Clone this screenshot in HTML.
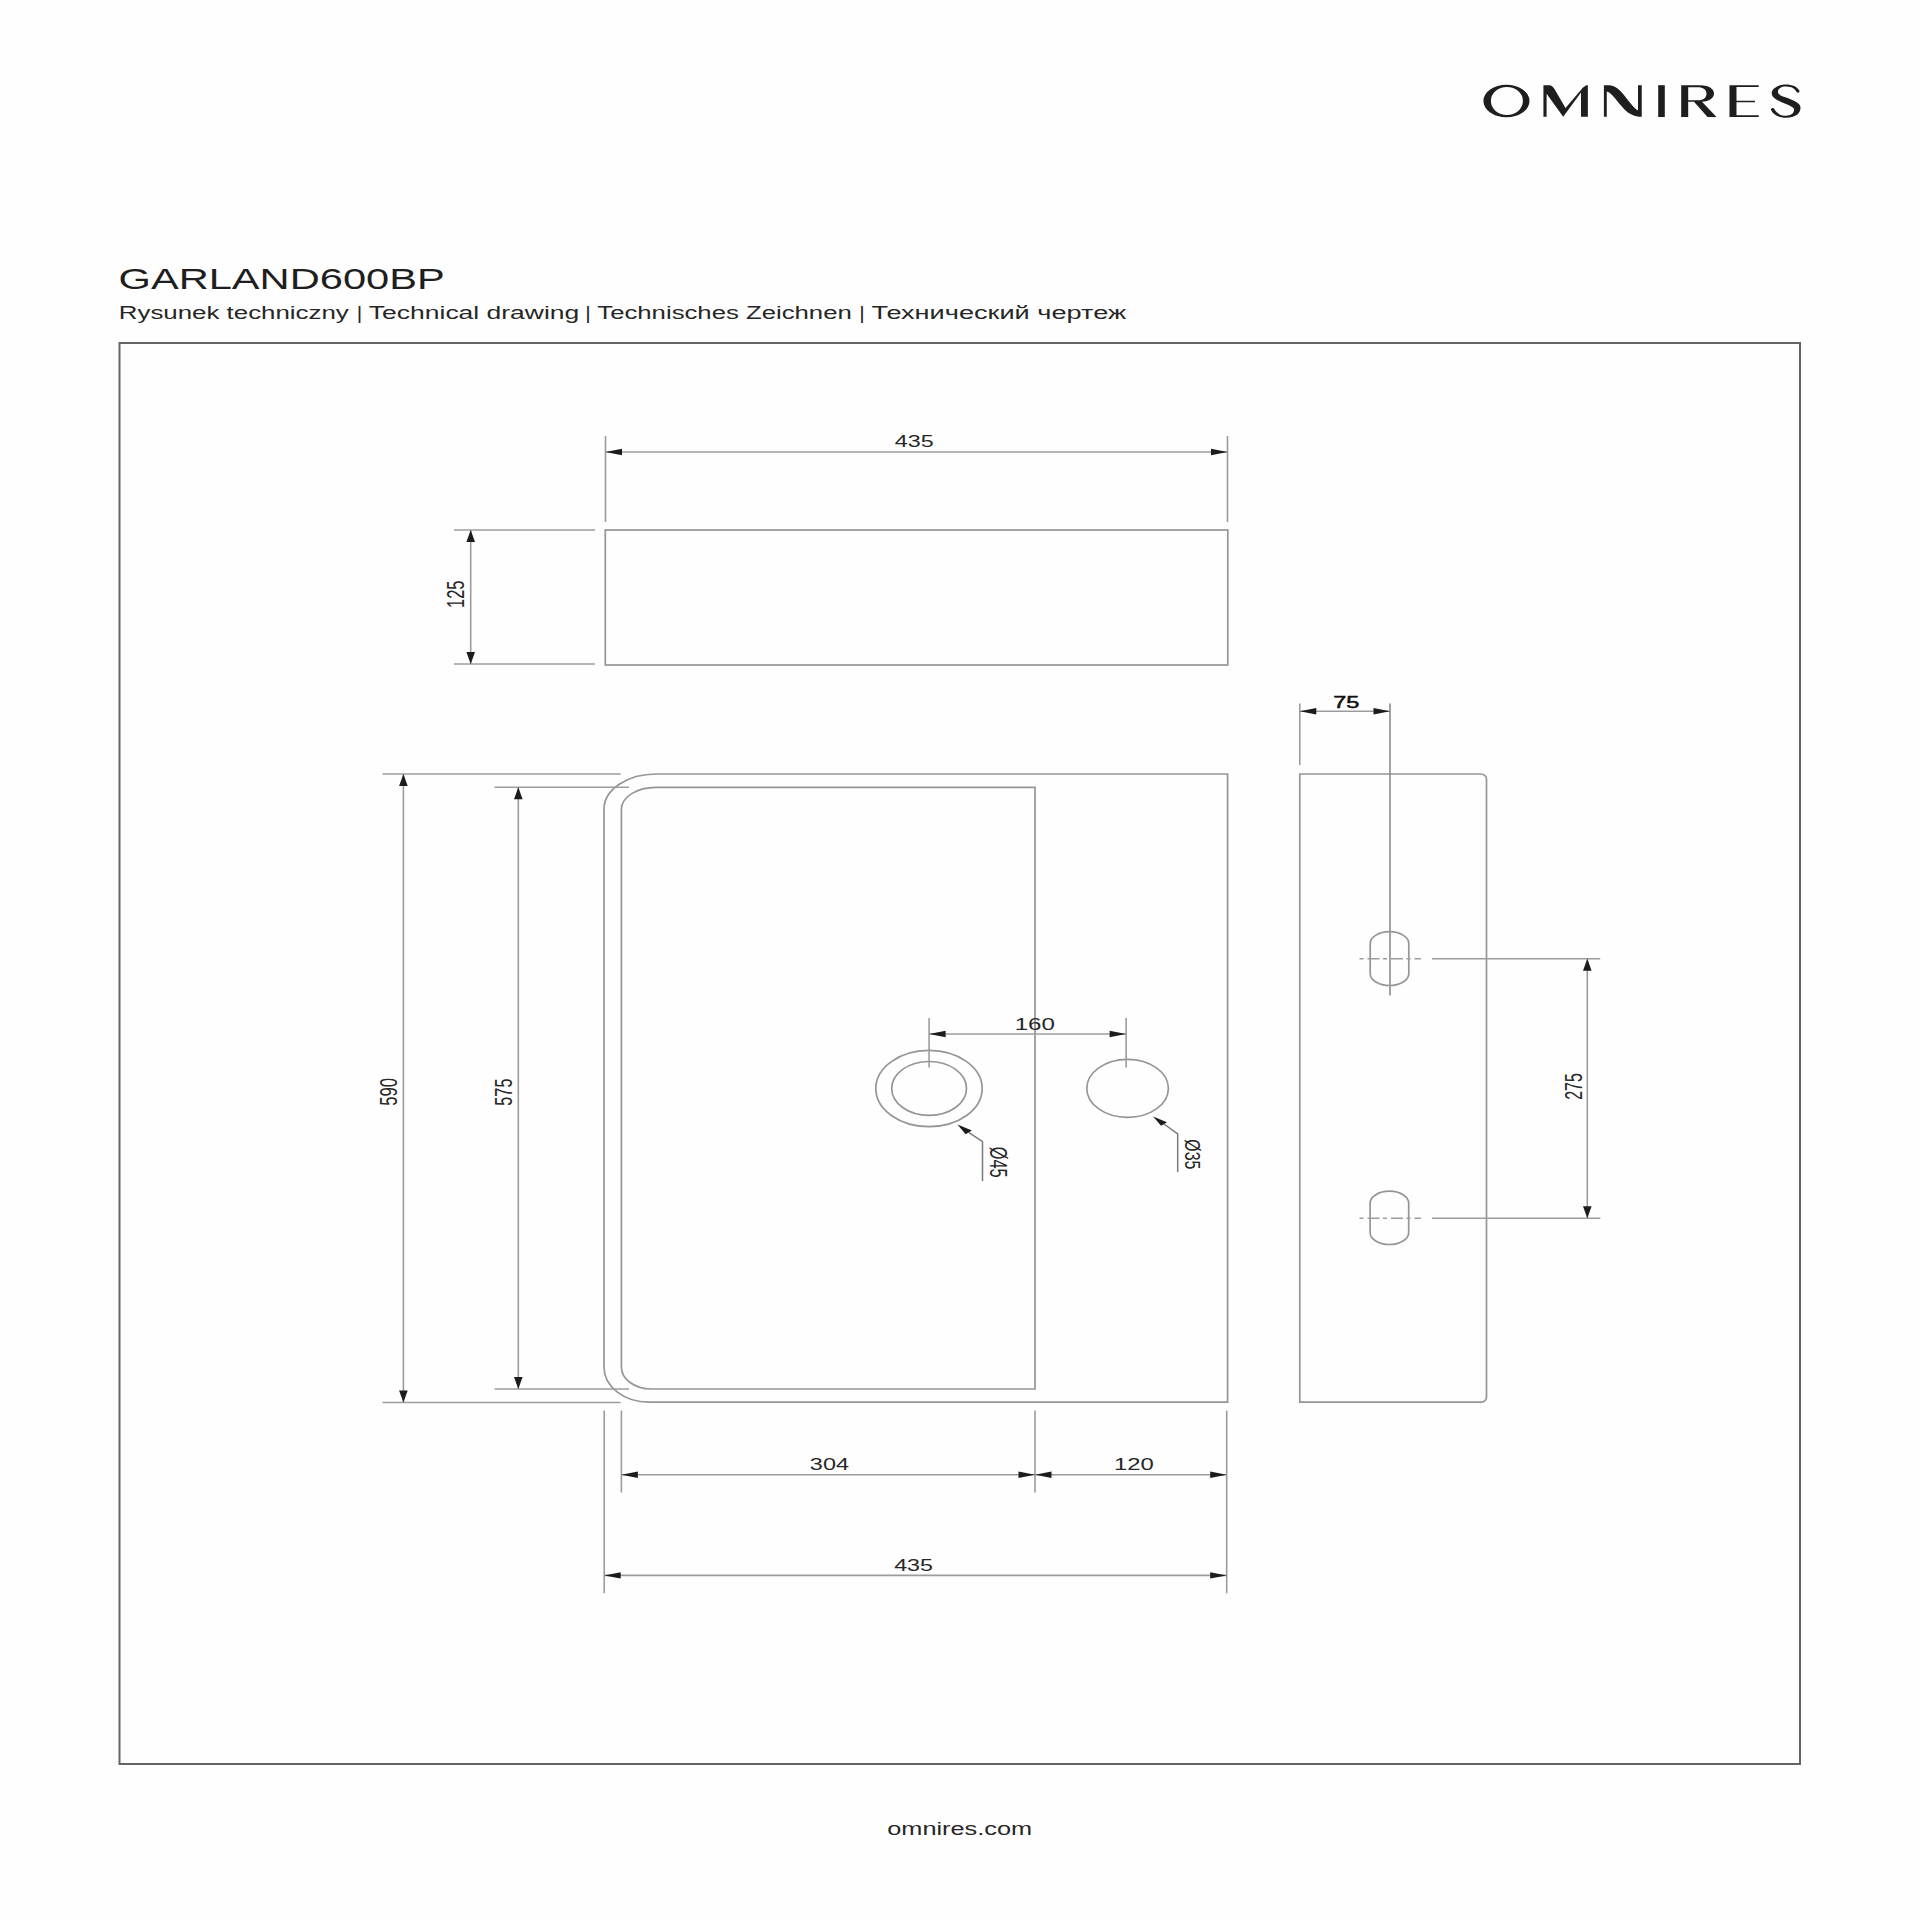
<!DOCTYPE html>
<html><head><meta charset="utf-8"><title>GARLAND600BP</title>
<style>
html,body{margin:0;padding:0;background:#fff;}
body{width:1920px;height:1920px;overflow:hidden;position:relative;}
svg{position:absolute;left:0;top:0;}
text{font-family:"Liberation Sans",sans-serif;}
</style></head>
<body>
<svg width="1920" height="1920" viewBox="0 0 1920 1920">
<rect x="0" y="0" width="1920" height="1920" fill="#fefefe"/>

<g fill="#1e1e1e">
 <path fill-rule="evenodd" d="M1483.4,101 a23.05,16.25 0 1 0 46.1,0 a23.05,16.25 0 1 0 -46.1,0 Z M1490.9,101 a16,14 0 1 0 32,0 a16,14 0 1 0 -32,0 Z"/>
 <path d="M1543.44,116.68 L1543.44,85.16 L1549.46,85.16 C1552.9,85.73 1554.62,89.17 1554.62,89.17 L1565.5,108.08 L1581.55,89.17 C1583.84,85.73 1587.28,85.16 1587.28,85.16 L1587.86,85.16 L1587.86,116.68 L1580.98,116.68 L1580.98,92.6 L1563.21,116.68 L1546.6,93.75 L1546.6,116.68 Z"/>
 <path d="M1603.9,116.68 L1603.9,85.16 L1609.06,85.16 C1614.79,85.44 1619.37,89.17 1623.96,94.9 C1629.69,102.35 1634.85,109.23 1638.0,110.37 L1638.0,85.16 L1641.73,85.16 L1641.73,116.68 L1638.86,116.68 C1632.56,116.1 1627.4,113.24 1621.67,106.36 C1614.2,97.19 1610.2,92.03 1606.77,91.46 L1606.77,116.68 Z"/>
 <rect x="1658.2" y="85.2" width="6.6" height="31.8"/>
 <path fill-rule="evenodd" d="M1681.2,117 L1681.2,85.2 L1700,85.2 C1710,85.2 1714,89.5 1714,93.5 C1714,98 1709,101.5 1702,101.7 L1716.5,117 L1707.5,117 L1694,101.8 L1688.2,101.8 L1688.2,117 Z M1688.2,87.2 L1688.2,100.2 L1698,100.2 C1703.5,100.2 1706.5,97.5 1706.5,93.7 C1706.5,89.5 1703,87.2 1698,87.2 Z"/>
 <polygon points="1729.5,117 1729.5,85.2 1758.7,85.2 1758.7,87 1736.5,87 1736.5,100.7 1755,100.7 1755,102.3 1736.5,102.3 1736.5,115.2 1758.7,115.2 1758.7,117"/>
 <path d="M1799.6,91.1 C1797.5,86.7 1792,84.6 1786,84.6 C1778.2,84.6 1771.7,88.5 1771.7,93 C1771.7,98.4 1778.2,100.8 1786,103.9 C1791.25,106 1794.1,107.6 1794.1,109.6 C1794.1,113.5 1790.7,115.75 1786,115.75 C1779.5,115.75 1775.6,112.2 1774.1,108.6 C1773,107.3 1771.2,108.1 1770.9,109.4 C1772.5,114.1 1778.2,117.8 1786,117.8 C1795.2,117.8 1800.5,113.5 1800.5,107.8 C1800.5,102.6 1793.9,100.5 1786,97.4 C1779.8,95.8 1778,93.75 1778,91.7 C1778,88.5 1781.4,86.5 1786,86.5 C1792.5,86.5 1795.4,89.6 1796.5,91.9 C1797.5,93.2 1799.3,92.7 1799.6,91.1 Z"/>
</g>


<rect x="119.5" y="343" width="1680.5" height="1421" fill="none" stroke="#646464" stroke-width="2"/>
<line x1="605.5" y1="436" x2="605.5" y2="522" stroke="#9c9c9c" stroke-width="1.6" />
<line x1="1227.5" y1="436" x2="1227.5" y2="522" stroke="#9c9c9c" stroke-width="1.6" />
<line x1="605.5" y1="452" x2="1227.5" y2="452" stroke="#9c9c9c" stroke-width="1.6" />
<polygon points="605.5,452 622.0,448.8 622.0,455.2" fill="#1c1c1c"/>
<polygon points="1227.5,452 1211.0,448.8 1211.0,455.2" fill="#1c1c1c"/>
<text transform="matrix(0.23292,0,0,0.16338,894.834,447.337)" x="0" y="0" font-size="100" font-weight="normal" fill="#262626" >435</text>
<rect x="605.3" y="530" width="622.5" height="135" fill="none" stroke="#959595" stroke-width="1.7"/>
<line x1="454" y1="530" x2="595" y2="530" stroke="#9c9c9c" stroke-width="1.6" />
<line x1="454" y1="664" x2="595" y2="664" stroke="#9c9c9c" stroke-width="1.6" />
<line x1="470.7" y1="530" x2="470.7" y2="664" stroke="#9c9c9c" stroke-width="1.6" />
<polygon points="470.7,530 466.4,542 475.0,542" fill="#1c1c1c"/>
<polygon points="470.7,664 466.4,652 475.0,652" fill="#1c1c1c"/>
<text transform="matrix(0,-0.16452,0.23239,0,464.068,608.016)" x="0" y="0" font-size="100" font-weight="normal" fill="#262626" >125</text>
<path d="M656,774 L1227.6,774 L1227.6,1402.2 L649,1402.2 A45,35 0 0 1 604,1367 L604,809 A52,35 0 0 1 656,774 Z" fill="none" stroke="#959595" stroke-width="1.7"/>
<path d="M656,787.3 L1035,787.3 L1035,1389 L651,1389 A29.6,22 0 0 1 621.4,1367 L621.4,809 A34.6,22 0 0 1 656,787.3 Z" fill="none" stroke="#959595" stroke-width="1.7"/>
<line x1="382.5" y1="774" x2="620.6" y2="774" stroke="#9c9c9c" stroke-width="1.6" />
<line x1="382.5" y1="1402.5" x2="620.6" y2="1402.5" stroke="#9c9c9c" stroke-width="1.6" />
<line x1="403.4" y1="774" x2="403.4" y2="1402.5" stroke="#9c9c9c" stroke-width="1.6" />
<polygon points="403.4,774 399.09999999999997,786 407.7,786" fill="#1c1c1c"/>
<polygon points="403.4,1402.5 399.09999999999997,1390.5 407.7,1390.5" fill="#1c1c1c"/>
<text transform="matrix(0,-0.16667,0.23521,0,396.865,1105.667)" x="0" y="0" font-size="100" font-weight="normal" fill="#262626" >590</text>
<line x1="494.6" y1="787.3" x2="629" y2="787.3" stroke="#9c9c9c" stroke-width="1.6" />
<line x1="494.6" y1="1389" x2="629" y2="1389" stroke="#9c9c9c" stroke-width="1.6" />
<line x1="518.3" y1="787.3" x2="518.3" y2="1389" stroke="#9c9c9c" stroke-width="1.6" />
<polygon points="518.3,787.3 514.0,799.3 522.5999999999999,799.3" fill="#1c1c1c"/>
<polygon points="518.3,1389 514.0,1377 522.5999999999999,1377" fill="#1c1c1c"/>
<text transform="matrix(0,-0.16226,0.23857,0,511.861,1105.649)" x="0" y="0" font-size="100" font-weight="normal" fill="#262626" >575</text>
<ellipse cx="929" cy="1088.55" rx="53.2" ry="38.15" fill="none" stroke="#959595" stroke-width="1.7"/>
<ellipse cx="929.1" cy="1088.45" rx="37.4" ry="26.95" fill="none" stroke="#959595" stroke-width="1.7"/>
<ellipse cx="1127.6" cy="1088.4" rx="40.8" ry="29" fill="none" stroke="#959595" stroke-width="1.7"/>
<line x1="929.1" y1="1018" x2="929.1" y2="1067.4" stroke="#9c9c9c" stroke-width="1.6" />
<line x1="1126.1" y1="1018" x2="1126.1" y2="1067.4" stroke="#9c9c9c" stroke-width="1.6" />
<line x1="929.1" y1="1034" x2="1126.1" y2="1034" stroke="#9c9c9c" stroke-width="1.6" />
<polygon points="929.1,1034 945.6,1030.8 945.6,1037.2" fill="#1c1c1c"/>
<polygon points="1126.1,1034 1109.6,1030.8 1109.6,1037.2" fill="#1c1c1c"/>
<text transform="matrix(0.24129,0,0,0.16901,1014.670,1029.631)" x="0" y="0" font-size="100" font-weight="normal" fill="#262626" >160</text>
<polyline points="968.7,1132.3 982.5,1141.7 982.5,1181" fill="none" stroke="#7a7a7a" stroke-width="1.5"/>
<polygon points="957.5,1124.4 971.9,1130.4 965.6,1134.2" fill="#1c1c1c"/>
<text transform="matrix(0,0.16409,-0.23649,0,989.673,1146.644)" x="0" y="0" font-size="100" font-weight="normal" fill="#262626" >&#216;45</text>
<polyline points="1164,1124 1177.7,1133.9 1177.7,1172" fill="none" stroke="#7a7a7a" stroke-width="1.5"/>
<polygon points="1153.1,1116.4 1167,1122.2 1161.1,1125.7" fill="#1c1c1c"/>
<text transform="matrix(0,0.15912,-0.22703,0,1185.054,1139.264)" x="0" y="0" font-size="100" font-weight="normal" fill="#262626" >&#216;35</text>
<line x1="604.2" y1="1410.6" x2="604.2" y2="1593.3" stroke="#9c9c9c" stroke-width="1.6" />
<line x1="621.4" y1="1410.6" x2="621.4" y2="1492.5" stroke="#9c9c9c" stroke-width="1.6" />
<line x1="1035" y1="1410.6" x2="1035" y2="1492.4" stroke="#9c9c9c" stroke-width="1.6" />
<line x1="1226.7" y1="1410.6" x2="1226.7" y2="1593.3" stroke="#9c9c9c" stroke-width="1.6" />
<line x1="621.4" y1="1474.8" x2="1035" y2="1474.8" stroke="#9c9c9c" stroke-width="1.6" />
<polygon points="621.4,1474.8 637.9,1471.6 637.9,1478.0" fill="#1c1c1c"/>
<polygon points="1035,1474.8 1018.5,1471.6 1018.5,1478.0" fill="#1c1c1c"/>
<text transform="matrix(0.23438,0,0,0.16408,809.862,1470.236)" x="0" y="0" font-size="100" font-weight="normal" fill="#262626" >304</text>
<line x1="1035" y1="1474.8" x2="1226.7" y2="1474.8" stroke="#9c9c9c" stroke-width="1.6" />
<polygon points="1035,1474.8 1051.5,1471.6 1051.5,1478.0" fill="#1c1c1c"/>
<polygon points="1226.7,1474.8 1210.2,1471.6 1210.2,1478.0" fill="#1c1c1c"/>
<text transform="matrix(0.23871,0,0,0.16549,1114.090,1470.435)" x="0" y="0" font-size="100" font-weight="normal" fill="#262626" >120</text>
<line x1="604.2" y1="1575.4" x2="1226.7" y2="1575.4" stroke="#9c9c9c" stroke-width="1.6" />
<polygon points="604.2,1575.4 620.7,1572.2 620.7,1578.6000000000001" fill="#1c1c1c"/>
<polygon points="1226.7,1575.4 1210.2,1572.2 1210.2,1578.6000000000001" fill="#1c1c1c"/>
<text transform="matrix(0.23292,0,0,0.15915,894.134,1570.741)" x="0" y="0" font-size="100" font-weight="normal" fill="#262626" >435</text>
<path d="M1299.8,774 L1480.5,774 A6,5 0 0 1 1486.5,779 L1486.5,1397 A5,5 0 0 1 1481.5,1402.1 L1299.8,1402.1 Z" fill="none" stroke="#959595" stroke-width="1.7"/>
<line x1="1299.8" y1="703.4" x2="1299.8" y2="765" stroke="#9c9c9c" stroke-width="1.6" />
<line x1="1390" y1="703.4" x2="1390" y2="995.6" stroke="#8c8c8c" stroke-width="1.6" />
<line x1="1299.8" y1="711.25" x2="1390" y2="711.25" stroke="#9c9c9c" stroke-width="1.6" />
<polygon points="1299.8,711.25 1316.3,708.05 1316.3,714.45" fill="#1c1c1c"/>
<polygon points="1390,711.25 1373.5,708.05 1373.5,714.45" fill="#1c1c1c"/>
<text transform="matrix(0.23529,0,0,0.17000,1333.224,707.630)" x="0" y="0" font-size="100" font-weight="normal" fill="#111" stroke="#111" stroke-width="3.2">75</text>
<path d="M1370.2,943.6 A19.3,12 0 0 1 1408.8,943.6 L1408.8,973.5 A19.3,12 0 0 1 1370.2,973.5 Z" fill="none" stroke="#959595" stroke-width="1.7"/>
<path d="M1370.1000000000001,1203.2 A19.3,12 0 0 1 1408.7,1203.2 L1408.7,1232.5 A19.3,12 0 0 1 1370.1000000000001,1232.5 Z" fill="none" stroke="#959595" stroke-width="1.7"/>
<line x1="1359.5" y1="958.7" x2="1421" y2="958.7" stroke="#9c9c9c" stroke-width="1.6" stroke-dasharray="4 4 12 3.5"/>
<line x1="1359.5" y1="1218.2" x2="1421" y2="1218.2" stroke="#9c9c9c" stroke-width="1.6" stroke-dasharray="4 4 12 3.5"/>
<line x1="1432" y1="958.7" x2="1600.2" y2="958.7" stroke="#9c9c9c" stroke-width="1.6" />
<line x1="1432" y1="1218.2" x2="1600.3" y2="1218.2" stroke="#9c9c9c" stroke-width="1.6" />
<line x1="1587.3" y1="958.7" x2="1587.3" y2="1218.2" stroke="#9c9c9c" stroke-width="1.6" />
<polygon points="1587.3,958.7 1583.0,970.7 1591.6,970.7" fill="#1c1c1c"/>
<polygon points="1587.3,1218.2 1583.0,1206.2 1591.6,1206.2" fill="#1c1c1c"/>
<text transform="matrix(0,-0.15981,0.23169,0,1582.468,1099.799)" x="0" y="0" font-size="100" font-weight="normal" fill="#262626" >275</text>
<text transform="matrix(0.41643,0,0,0.30282,118.518,288.697)" x="0" y="0" font-size="100" font-weight="normal" fill="#1e1e1e" >GARLAND600BP</text>
<text transform="matrix(0.25863,0,0,0.18330,118.831,318.75)" x="0" y="0" font-size="100" fill="#262626" >Rysunek techniczny</text>
<text transform="matrix(0.26476,0,0,0.18330,368.870,318.75)" x="0" y="0" font-size="100" fill="#262626" >Technical drawing</text>
<text transform="matrix(0.25739,0,0,0.18330,597.285,318.75)" x="0" y="0" font-size="100" fill="#262626" >Technisches Zeichnen</text>
<text transform="matrix(0.27155,0,0,0.18330,871.457,318.75)" x="0" y="0" font-size="100" fill="#262626" >Технический чертеж</text>
<text transform="matrix(0.21,0,0,0.1833,356.670,318.75)" x="0" y="0" font-size="100" fill="#262626">|</text>
<text transform="matrix(0.21,0,0,0.1833,585.270,318.75)" x="0" y="0" font-size="100" fill="#262626">|</text>
<text transform="matrix(0.21,0,0,0.1833,859.170,318.75)" x="0" y="0" font-size="100" fill="#262626">|</text>
<text transform="matrix(0.25302,0,0,0.17973,887.288,1835.420)" x="0" y="0" font-size="100" font-weight="normal" fill="#262626" >omnires.com</text>

</svg>
</body></html>
